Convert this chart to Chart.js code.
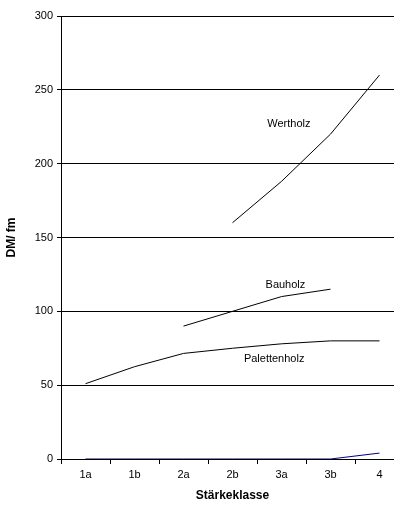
<!DOCTYPE html>
<html>
<head>
<meta charset="utf-8">
<script src="https://cdn.jsdelivr.net/npm/chart.js@4/dist/chart.umd.min.js"></script>
<style>
  html, body { margin: 0; padding: 0; background: #fff; overflow: hidden; }
  #wrap { width: 404px; height: 507px; }
</style>
</head>
<body>
<div id="wrap"><canvas id="grafik"></canvas></div>
<script>
const klassen = ['1a', '1b', '2a', '2b', '3a', '3b', '4'];
const wertholz = [null, null, null, 160, 188, 220, 260];
const bauholz = [null, null, 90, 100, 110, 115, null];
const palettenholz = [51, 62.5, 71.5, 75, 78, 80, 80];
const sonstiges = [0, 0, 0, 0, 0, 0, 4];

// Beschriftungen an den Kurven: [Text, Kategorie-Index, Wert]
const beschriftungen = [
    ['Wertholz', 4.15, 227],
    ['Bauholz', 4.08, 118],
    ['Palettenholz', 3.85, 68]
];

const schrift = '"Liberation Sans", Arial, sans-serif';

const kurvenText = {
    id: 'kurvenText',
    afterDatasetsDraw(chart) {
        const c = chart.ctx;
        const sx = chart.scales.x, sy = chart.scales.y;
        c.save();
        c.font = '11px ' + schrift;
        c.fillStyle = '#000';
        c.textAlign = 'center';
        c.textBaseline = 'middle';
        beschriftungen.forEach(b => {
            c.fillText(b[0], sx.getPixelForValue(b[1]), sy.getPixelForValue(b[2]));
        });
        c.restore();
    }
};

function linie(label, daten, farbe) {
    return {
        label: label, data: daten, borderColor: farbe, borderWidth: 1,
        pointRadius: 0, tension: 0, fill: false, spanGaps: false
    };
}

new Chart(document.getElementById('grafik'), {
    type: 'line',
    data: {
        labels: klassen,
        datasets: [
            linie('Wertholz', wertholz, '#000'),
            linie('Bauholz', bauholz, '#000'),
            linie('Palettenholz', palettenholz, '#000'),
            linie('Sonstiges', sonstiges, '#000080')
        ]
    },
    options: {
        responsive: true, maintainAspectRatio: false, animation: false,
        layout: { padding: { top: 16, right: 0, bottom: 4, left: 4 } },
        plugins: { legend: { display: false }, tooltip: { enabled: false } },
        scales: {
            x: {
                offset: true,
                grid: { offset: true, drawOnChartArea: false, tickLength: 5, color: '#000' },
                border: { color: '#000', width: 1 },
                ticks: { color: '#000', font: { size: 11, family: schrift }, padding: 4, maxRotation: 0 },
                title: { display: true, text: 'Stärkeklasse', color: '#000', font: { size: 12, weight: 'bold', family: schrift }, padding: { top: 6, bottom: 0 } },
                afterFit(s) { s.height = 44; }
            },
            y: {
                min: 0, max: 300,
                grid: { color: '#000', tickLength: 4, lineWidth: 1 },
                border: { color: '#000', width: 1 },
                ticks: { stepSize: 50, color: '#000', font: { size: 11, family: schrift }, padding: 4 },
                title: { display: true, text: 'DM/ fm', color: '#000', font: { size: 12, weight: 'bold', family: schrift }, padding: { top: 0, bottom: 6 } },
                afterFit(s) { s.width = 57; }
            }
        }
    },
    plugins: [kurvenText]
});
</script>
</body>
</html>
